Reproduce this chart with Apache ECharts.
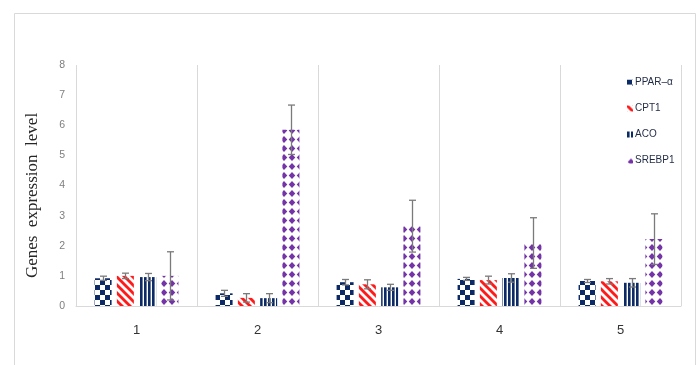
<!DOCTYPE html>
<html>
<head>
<meta charset="utf-8">
<script src="https://cdn.jsdelivr.net/npm/echarts@6/dist/echarts.min.js"></script>
<style>
  html, body { margin: 0; padding: 0; background: #ffffff; }
  #chart { width: 700px; height: 365px; }
</style>
</head>
<body>
<div id="chart"></div>
<script>
// Groups on the x axis
const categories = ['1', '2', '3', '4', '5'];
const geneNames = ['PPAR‒α', 'CPT1', 'ACO', 'SREBP1'];

// Mean expression level per gene and group
const ppar   = [0.92, 0.42, 0.79, 0.90, 0.83];
const cpt1   = [1.00, 0.27, 0.72, 0.86, 0.82];
const aco    = [0.96, 0.26, 0.62, 0.93, 0.77];
const srebp1 = [1.00, 5.85, 2.65, 2.09, 2.22];

// Error (± half-range) per gene and group
const pparErr   = [0.07, 0.10, 0.09, 0.05, 0.05];
const cpt1Err   = [0.09, 0.14, 0.15, 0.13, 0.09];
const acoErr    = [0.12, 0.15, 0.10, 0.14, 0.14];
const srebp1Err = [0.80, 0.82, 0.86, 0.84, 0.84];

// Y axis ticks
const yMin = 0, yMax = 8, yStep = 1;

const NAVY = '#0b2a66';
const RED = '#ff1a1a';
const PURPLE = '#7434a8';

function makeTile(w, h, draw) {
  const c = document.createElement('canvas');
  c.width = w; c.height = h;
  const ctx = c.getContext('2d');
  ctx.fillStyle = '#ffffff';
  ctx.fillRect(0, 0, w, h);
  draw(ctx);
  return { image: c, repeat: 'repeat' };
}

// Checkerboard fill
const checkerFill = makeTile(10, 10, ctx => {
  ctx.fillStyle = NAVY;
  ctx.fillRect(0, 0, 5, 5);
  ctx.fillRect(5, 5, 5, 5);
});

// Diagonal stripes running top-left to bottom-right
const stripeFill = makeTile(8, 8, ctx => {
  ctx.strokeStyle = RED;
  ctx.lineWidth = 2.9;
  for (let k = -1; k <= 1; k++) {
    ctx.beginPath();
    ctx.moveTo(k * 8 - 1, -1);
    ctx.lineTo(k * 8 + 9, 9);
    ctx.stroke();
  }
});

// Vertical stripes
const verticalFill = makeTile(4, 4, ctx => {
  ctx.fillStyle = NAVY;
  ctx.fillRect(0, 0, 2.6, 4);
});

// Diamond grid
const diamondFill = makeTile(8, 9, ctx => {
  ctx.fillStyle = PURPLE;
  ctx.beginPath();
  ctx.moveTo(4, 1.0);
  ctx.lineTo(7.3, 4.5);
  ctx.lineTo(4, 8.0);
  ctx.lineTo(0.7, 4.5);
  ctx.closePath();
  ctx.fill();
});

const fills = [checkerFill, stripeFill, verticalFill, diamondFill];
const values = [ppar, cpt1, aco, srebp1];
const errors = [pparErr, cpt1Err, acoErr, srebp1Err];

const BAR_W = 17;
const BAR_GAP = 0.31;

// Error-bar records: [category index, gene index, mean, error]
const errData = [];
values.forEach((arr, g) => {
  arr.forEach((v, i) => errData.push([i, g, v, errors[g][i]]));
});

const barSeries = values.map((arr, g) => ({
  name: geneNames[g],
  type: 'bar',
  data: arr,
  barWidth: BAR_W,
  barGap: (BAR_GAP * 100) + '%',
  itemStyle: { color: fills[g] },
  z: 2
}));

const errorSeries = {
  type: 'custom',
  data: errData,
  encode: { x: 0, y: 2 },
  z: 5,
  silent: true,
  renderItem: function (params, api) {
    const cat = api.value(0);
    const g = api.value(1);
    const v = api.value(2);
    const e = api.value(3);
    const step = BAR_W * (1 + BAR_GAP);
    const dx = (g - 1.5) * step;
    const hi = api.coord([cat, v + e]);
    const lo = api.coord([cat, v - e]);
    const x = Math.round(hi[0] + dx) + 0.5;
    const cap = 3.5;
    const style = { stroke: '#7a7a7a', lineWidth: 1.3, fill: null };
    return {
      type: 'group',
      children: [
        { type: 'line', shape: { x1: x, y1: hi[1], x2: x, y2: lo[1] }, style: style },
        { type: 'line', shape: { x1: x - cap, y1: hi[1], x2: x + cap, y2: hi[1] }, style: style },
        { type: 'line', shape: { x1: x - cap, y1: lo[1], x2: x + cap, y2: lo[1] }, style: style }
      ]
    };
  }
};

const chart = echarts.init(document.getElementById('chart'), null, { renderer: 'canvas' });

chart.setOption({
  animation: false,
  backgroundColor: '#ffffff',
  graphic: [{
    type: 'rect',
    shape: { x: 14.5, y: 13.5, width: 681, height: 370 },
    style: { fill: null, stroke: '#d9d9d9', lineWidth: 1 },
    silent: true,
    z: -1
  }],
  grid: { left: 76, right: 19, top: 65, bottom: 59 },
  legend: {
    data: geneNames,
    orient: 'vertical',
    left: 622,
    top: 71,
    itemWidth: 6,
    itemHeight: 6,
    itemGap: 13,
    icon: 'rect',
    textStyle: { fontFamily: 'Liberation Sans', fontSize: 10, color: '#1f2a44', lineHeight: 13, padding: [0, 0, 0, -3] }
  },
  xAxis: {
    type: 'category',
    data: categories,
    axisLine: { lineStyle: { color: '#d9d9d9', width: 1 } },
    axisTick: { show: false },
    axisLabel: { fontFamily: 'Liberation Sans', fontSize: 13, color: '#333333', margin: 18 },
    splitLine: { show: true, lineStyle: { color: '#d9d9d9', width: 1 } }
  },
  yAxis: {
    type: 'value',
    min: yMin,
    max: yMax,
    interval: yStep,
    name: 'Genes  expression  level',
    nameLocation: 'middle',
    nameGap: 35,
    nameTextStyle: { fontFamily: 'Liberation Serif', fontSize: 17, color: '#262626', padding: [0, 20, 0, 0] },
    axisLine: { show: false },
    axisTick: { show: false },
    splitLine: { show: false },
    axisLabel: { fontFamily: 'Liberation Sans', fontSize: 10.5, color: '#7f7f7f', margin: 11 }
  },
  series: barSeries.concat([errorSeries])
});
</script>
</body>
</html>
